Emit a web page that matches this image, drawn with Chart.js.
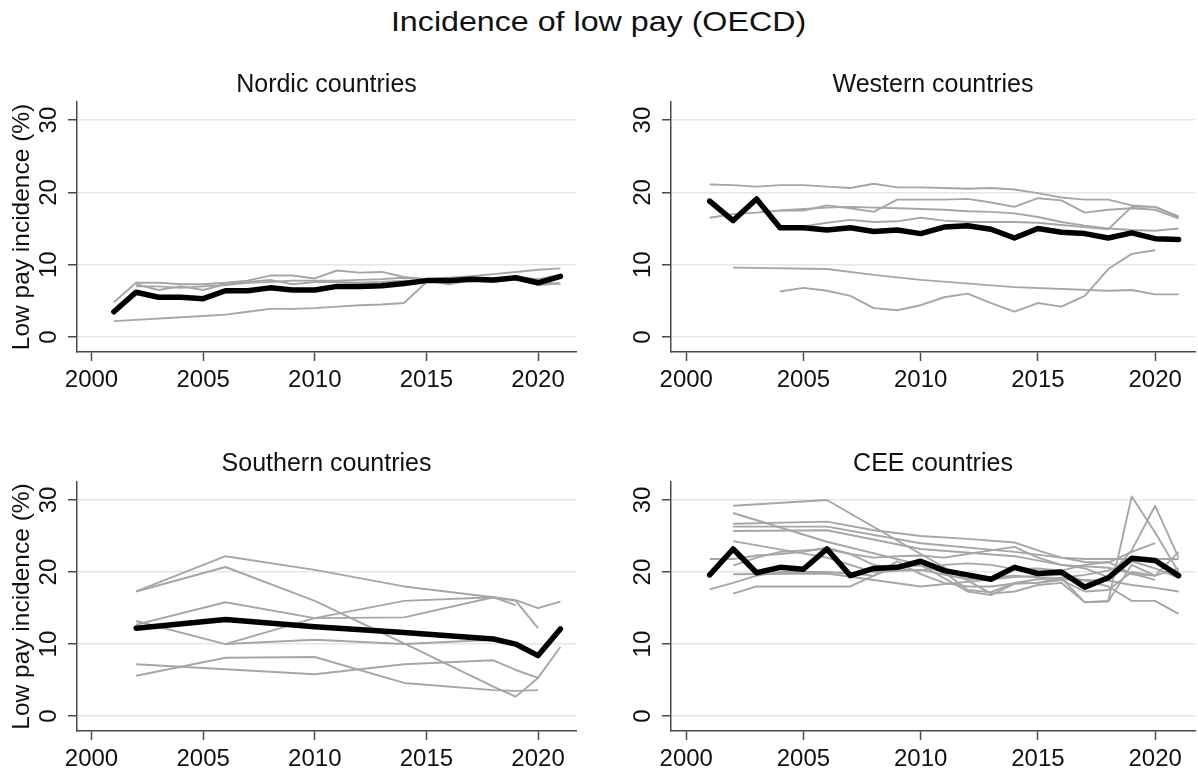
<!DOCTYPE html>
<html>
<head>
<meta charset="utf-8">
<script src="https://cdn.jsdelivr.net/npm/chart.js@4.4.1/dist/chart.umd.min.js"></script>
<style>
  html, body { margin: 0; padding: 0; background: #ffffff; }
  body { width: 1198px; height: 777px; position: relative; overflow: hidden;
         font-family: 'Liberation Sans', Arial, sans-serif; }
  #title { position: absolute; left: 0; top: 8px; width: 1198px; text-align: center;
           font-size: 28px; line-height: 28px; color: #111; }
  #title span { display: inline-block; transform: scaleX(1.15); }
  canvas { position: absolute; }
</style>
</head>
<body>
<div id="title"><span>Incidence of low pay (OECD)</span></div>
<canvas id="nordic"></canvas>
<canvas id="western"></canvas>
<canvas id="southern"></canvas>
<canvas id="cee"></canvas>
<script>
// Years covered by every series (2001 ... 2021); null = no observation that year
const YEARS = [2001, 2002, 2003, 2004, 2005, 2006, 2007, 2008, 2009, 2010, 2011,
               2012, 2013, 2014, 2015, 2016, 2017, 2018, 2019, 2020, 2021];
const X_TICKS = [2000, 2005, 2010, 2015, 2020];
const Y_TICKS = [0, 10, 20, 30];
const Y_TITLE = 'Low pay incidence (%)';

// ---- Nordic countries ----
const nordicAvg = [3.5, 6.2, 5.5, 5.5, 5.3, 6.4, 6.4, 6.8, 6.5, 6.5, 7.0, 7.0, 7.1, 7.4, 7.8, 7.8, 8.0, 7.9, 8.2, 7.5, 8.4];
const nordic1 = [2.2, null, null, null, 2.9, 3.1, 3.5, 3.9, 3.9, 4.0, 4.2, 4.4, 4.5, 4.7, 7.6, 7.6, 7.8, 7.7, 8.0, 7.5, 7.4];
const nordic2 = [4.8, 7.5, 7.5, 7.3, 7.3, 7.5, 7.8, 8.5, 8.5, 8.1, 9.2, 8.9, 9.0, 8.3, 8.0, 7.9, 8.1, 8.0, 8.3, 8.0, 8.6];
const nordic3 = [null, 7.3, 6.5, 7.0, 6.5, 7.3, 7.6, 7.9, 7.3, 7.6, 7.6, 7.5, 7.6, 7.8, 7.8, 7.3, 7.8, 7.6, 8.0, 7.2, 7.4];
const nordic4 = [null, 7.0, 7.0, 6.8, 7.0, 7.2, 7.5, 7.6, 7.8, 7.8, 7.8, 7.9, 8.0, 8.2, 8.0, 8.2, 8.4, 8.7, 9.0, 9.3, 9.5];

// ---- Western countries ----
const westernAvg = [18.8, 16.1, 19.1, 15.1, 15.1, 14.8, 15.1, 14.6, 14.8, 14.3, 15.2, 15.4, 14.9, 13.7, 15.0, 14.5, 14.3, 13.7, 14.4, 13.6, 13.5];
const western1 = [21.1, 21.0, 20.8, 21.0, 21.0, 20.8, 20.6, 21.2, 20.7, 20.7, 20.6, 20.5, 20.6, 20.4, 19.9, 19.3, 19.0, 19.0, 18.2, 18.0, 16.6];
const western2 = [16.5, 17.0, 17.2, 17.5, 17.5, 18.2, 17.8, 17.3, 19.0, 19.0, 19.0, 19.1, 18.6, 18.0, 19.2, 18.9, 17.2, 17.6, 17.8, 17.6, 16.4];
const western3 = [null, null, null, 17.5, 17.7, 17.9, 18.0, 17.9, 17.8, 17.7, 17.6, 17.4, 17.3, 17.1, 16.6, 15.9, 15.4, 15.0, 14.8, 14.7, 15.0];
const western4 = [null, null, null, null, 15.3, 15.8, 16.2, 15.9, 16.0, 16.5, 16.1, 15.9, 15.9, 15.9, 15.8, 15.5, 15.2, 14.9, 18.0, 18.0, 16.7];
const western5 = [null, 9.6, null, null, null, 9.4, null, 8.6, null, 7.9, null, null, null, 6.9, null, null, null, 6.4, 6.5, 5.9, 5.9];
const western6 = [null, null, null, 6.3, 6.8, 6.4, 5.7, 4.0, 3.7, 4.4, 5.5, 6.0, 4.7, 3.5, 4.7, 4.2, 5.7, 9.4, 11.5, 12.0, null];

// ---- Southern countries ----
const southernAvg = [null, 12.2, null, null, null, 13.4, null, null, null, 12.4, null, null, null, 11.6, null, null, null, 10.7, 10.0, 8.4, 12.1];
const southern1 = [null, 17.3, null, null, null, 22.2, null, null, null, 20.3, null, null, null, 18.0, null, null, null, 16.5, 16.1, 15.0, 15.9];
const southern2 = [null, 17.3, null, null, null, 20.7, null, null, null, 16.0, null, null, null, 10.1, null, null, null, 4.1, 2.7, 5.3, 9.6];
const southern3 = [null, 12.7, null, null, null, 15.8, null, null, null, 13.6, null, null, null, 13.7, null, null, null, 16.5, 15.4, null, null];
const southern4 = [null, 13.2, null, null, null, 10.0, null, null, null, 13.6, null, null, null, 16.0, null, null, null, 16.5, 16.0, 12.2, null];
const southern5 = [null, null, null, null, null, 10.0, null, null, null, 10.6, null, null, null, 10.0, null, null, null, 10.6, null, null, null];
const southern6 = [null, 7.2, null, null, null, 6.5, null, null, null, 5.8, null, null, null, 7.2, null, null, null, 7.75, 6.4, 5.3, null];
const southern7 = [null, 5.6, null, null, null, 8.1, null, null, null, 8.2, null, null, null, 4.6, null, null, null, 3.6, 3.5, 3.6, null];

// ---- CEE countries ----
const ceeAvg = [19.6, 23.2, 19.9, 20.65, 20.4, 23.2, 19.5, 20.5, 20.65, 21.5, 20.2, 19.6, 19.0, 20.65, 19.8, 20.0, 17.9, 19.2, 21.9, 21.6, 19.5];
const cee1 = [null, 29.2, null, null, null, 30.0, null, null, null, 22.5, null, null, 17.0, 17.3, 18.2, 18.5, 15.8, 16.0, 30.5, 25.5, 20.0];
const cee2 = [null, 28.2, null, null, null, 24.2, null, null, null, 21.0, null, 17.3, 16.8, 18.4, 18.5, 19.2, 19.6, 20.2, 21.5, 20.5, 19.2];
const cee3 = [null, 26.7, null, null, null, 27.0, null, 25.8, null, 25.0, null, 24.6, null, 24.1, 23.0, 22.0, 21.4, 21.3, 22.8, 24.0, null];
const cee4 = [null, 26.3, null, null, null, 26.3, null, null, null, 24.0, null, null, null, 22.8, null, 22.0, 21.8, 21.8, 21.8, 21.8, 21.8];
const cee5 = [null, 25.7, null, null, null, 25.8, null, null, null, 23.2, null, null, null, 22.2, null, 21.0, null, 20.6, 19.8, 18.9, null];
const cee6 = [null, 24.3, null, null, null, 22.0, null, 20.0, null, 20.3, null, 19.0, null, 19.5, null, 19.0, null, 18.8, 18.2, 17.8, 17.3];
const cee7 = [21.8, 21.8, 22.3, 22.5, 22.8, 23.4, 22.5, 22.0, 22.2, 22.3, 22.0, 22.5, 23.0, 23.5, 22.0, 21.0, 20.5, 19.3, 23.0, 29.2, 22.0];
const cee8 = [17.6, 18.5, 19.5, 20.0, 20.0, 20.0, 19.8, 19.5, 21.5, 19.7, 18.5, 18.0, 18.0, 18.4, 18.5, 18.9, 17.3, 17.5, 20.0, 19.5, 22.8];
const cee9 = [null, 17.0, 18.0, 18.0, 18.0, 18.0, 18.0, 19.5, 20.8, 20.9, 20.0, 17.5, 17.2, 18.5, 19.0, 19.2, 15.8, 15.9, 21.0, 19.5, null];
const cee10 = [null, 20.9, 22.0, 22.8, 23.0, 23.2, 22.5, 21.0, 20.5, 20.2, 21.0, 21.2, 21.0, 20.4, 20.5, 20.2, 21.0, 21.4, 19.7, 19.5, 20.5];
const cee11 = [null, 19.7, null, null, null, 19.8, null, null, null, 18.0, null, null, null, 19.3, null, 19.6, null, 18.0, 16.0, 16.0, 14.2];

// ---- shared styling ----
const FONT = "'Liberation Sans', Arial, sans-serif";
const TEXT = '#111111';
const AXIS = '#4a4a4a';
const GRID = '#e6e6e6';
const GRAY = '#a6a6a6';
const X_MIN = 1999.35, X_MAX = 2021.7;
const Y_MIN = -2.07, Y_MAX = 32.5;

function points(values) {
  return YEARS.map((yr, i) => ({ x: yr, y: values[i] })).filter(p => p.y !== null);
}

// Draws one panel; frame holds the canvas placement and the plot-area edges (page px).
function drawPanel(id, frame, heading, average, countries, withYTitle) {
  const cv = document.getElementById(id);
  cv.width = frame.w; cv.height = frame.h;
  cv.style.left = frame.x + 'px'; cv.style.top = frame.y + 'px';
  cv.style.width = frame.w + 'px'; cv.style.height = frame.h + 'px';

  const yWidth = frame.left - frame.x;
  const xHeight = frame.y + frame.h - frame.bottom;
  const padRight = frame.x + frame.w - frame.right;
  const titleLine = 30;                       // 25px font * 1.2
  const padTop = frame.titleMid - titleLine / 2 - frame.y;
  const padBottom = frame.top - frame.titleMid - titleLine / 2;

  const datasets = [{
    data: points(average), borderColor: '#000000', borderWidth: 5.5,
    borderJoinStyle: 'round', borderCapStyle: 'round', order: 0
  }].concat(countries.map(c => ({
    data: points(c), borderColor: GRAY, borderWidth: 1.9,
    borderJoinStyle: 'round', order: 1
  })));

  new Chart(cv, {
    type: 'line',
    data: { datasets },
    options: {
      responsive: false, animation: false, events: [],
      elements: { point: { radius: 0 }, line: { tension: 0 } },
      layout: { padding: { top: 0, left: 0, bottom: 0, right: padRight } },
      plugins: {
        legend: { display: false },
        tooltip: { enabled: false },
        title: {
          display: true, text: heading, fullSize: false, color: TEXT,
          font: { family: FONT, size: 25, weight: 'normal', lineHeight: 1.2 },
          padding: { top: padTop, bottom: padBottom }
        }
      },
      scales: {
        x: {
          type: 'linear', min: X_MIN, max: X_MAX,
          afterBuildTicks: s => { s.ticks = X_TICKS.map(v => ({ value: v })); },
          afterFit: s => { s.height = xHeight; },
          ticks: { font: { family: FONT, size: 24 }, color: TEXT, padding: 5,
                   maxRotation: 0, callback: v => String(v) },
          grid: { drawOnChartArea: false, drawTicks: true, tickLength: 9,
                  tickColor: AXIS, tickWidth: 1.5 },
          border: { display: true, color: AXIS, width: 1.5 }
        },
        y: {
          type: 'linear', min: Y_MIN, max: Y_MAX,
          afterBuildTicks: s => { s.ticks = Y_TICKS.map(v => ({ value: v })); },
          afterFit: s => { s.width = yWidth; },
          ticks: { font: { family: FONT, size: 24 }, color: TEXT, padding: 5.5,
                   minRotation: 90, maxRotation: 90, crossAlign: 'center',
                   callback: v => String(v) },
          grid: { color: GRID, lineWidth: 1.5, drawTicks: true, tickLength: 9,
                  tickColor: AXIS, tickWidth: 1.5 },
          border: { display: true, color: AXIS, width: 1.5 },
          title: { display: withYTitle, text: Y_TITLE, color: TEXT,
                   font: { family: FONT, size: 24.5, weight: 'normal', lineHeight: 1.2 },
                   padding: { top: 7.3, bottom: 0 } }
        }
      }
    }
  });
}

drawPanel('nordic',
  { x: 0, y: 60, w: 590, h: 337, left: 77, right: 576, top: 102, bottom: 352, titleMid: 85.3 },
  'Nordic countries', nordicAvg, [nordic1, nordic2, nordic3, nordic4], true);

drawPanel('western',
  { x: 600, y: 60, w: 598, h: 337, left: 671, right: 1195, top: 102, bottom: 352, titleMid: 85.3 },
  'Western countries', westernAvg, [western1, western2, western3, western4, western5, western6], false);

drawPanel('southern',
  { x: 0, y: 440, w: 590, h: 336, left: 77, right: 576, top: 482, bottom: 731, titleMid: 464.3 },
  'Southern countries', southernAvg,
  [southern1, southern2, southern3, southern4, southern5, southern6, southern7], true);

drawPanel('cee',
  { x: 600, y: 440, w: 598, h: 336, left: 671, right: 1195, top: 482, bottom: 731, titleMid: 464.3 },
  'CEE countries', ceeAvg,
  [cee1, cee2, cee3, cee4, cee5, cee6, cee7, cee8, cee9, cee10, cee11], false);
</script>
</body>
</html>
